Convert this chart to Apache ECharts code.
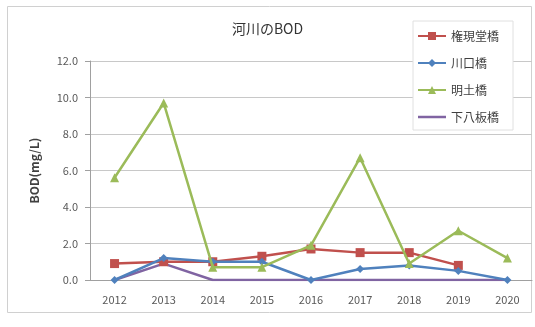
<!DOCTYPE html>
<html>
<head>
<meta charset="utf-8">
<script src="https://cdn.jsdelivr.net/npm/echarts@6/dist/echarts.min.js"></script>
<style>
html,body{margin:0;padding:0;background:#fff;}
#chart{width:535px;height:327px;}
</style>
</head>
<body>
<div id="chart"></div>
<script>
// 年度
const years = ['2012','2013','2014','2015','2016','2017','2018','2019','2020'];
// 各地点の BOD (mg/L)
const gongendo = [0.9, 1.0, 1.0, 1.3, 1.7, 1.5, 1.5, 0.8, null];
const kawaguchi = [0.0, 1.2, 1.0, 1.0, 0.0, 0.6, 0.8, 0.5, 0.0];
const meido = [5.6, 9.7, 0.7, 0.7, 1.9, 6.7, 0.9, 2.7, 1.2];
const shimoyaita = [0.0, 0.9, 0.0, 0.0, 0.0, 0.0, 0.0, 0.0, 0.0];
// 縦軸目盛
const yTicks = { min: 0, max: 12, interval: 2 };

const font = '"Noto Sans CJK JP", "Noto Sans", sans-serif';

const chart = echarts.init(document.getElementById('chart'));
chart.setOption({
  animation: false,
  backgroundColor: '#fff',
  textStyle: { fontFamily: font },
  graphic: [{
    type: 'rect',
    shape: { x: 7.5, y: 6.5, width: 524, height: 306 },
    style: { fill: 'none', stroke: '#D0D0D0', lineWidth: 1 },
    silent: true
  }],
  title: {
    text: '河川のBOD',
    left: 'center',
    top: 17,
    textStyle: { fontFamily: font, fontSize: 14, fontWeight: 'normal', color: '#333' }
  },
  legend: {
    orient: 'vertical',
    left: 413,
    top: 21,
    itemWidth: 28,
    itemHeight: 10,
    itemGap: 15,
    padding: [9, 14, 7, 4],
    borderColor: '#E0E0E0',
    borderWidth: 1,
    backgroundColor: '#fff',
    textStyle: { fontFamily: font, fontSize: 12, color: '#404040' },
    data: ['権現堂橋', '川口橋', '明土橋',
      { name: '下八板橋', icon: 'path://M0,0H28V2.5H0Z' }]
  },
  grid: { left: 90, right: 3, top: 61, bottom: 47, containLabel: false },
  xAxis: {
    type: 'category',
    data: years,
    boundaryGap: true,
    axisLine: { lineStyle: { color: '#A0A0A0' } },
    axisTick: { show: false },
    axisLabel: { color: '#595959', fontSize: 11, margin: 14, fontFamily: font }
  },
  yAxis: {
    type: 'value',
    min: yTicks.min,
    max: yTicks.max,
    interval: yTicks.interval,
    name: 'BOD(mg/L)',
    nameLocation: 'middle',
    nameGap: 50,
    nameRotate: 90,
    nameTextStyle: { fontFamily: font, fontSize: 12, fontWeight: 'bold', color: '#404040' },
    axisLine: { show: true, lineStyle: { color: '#A0A0A0' } },
    axisTick: { show: true, length: 5, lineStyle: { color: '#A0A0A0' } },
    axisLabel: { color: '#595959', fontSize: 11, margin: 12, fontFamily: font,
      formatter: v => v.toFixed(1) },
    splitLine: { lineStyle: { color: '#C8C8C8', width: 1 } }
  },
  series: [
    {
      name: '権現堂橋', type: 'line', data: gongendo,
      symbol: 'rect', symbolSize: 9,
      lineStyle: { color: '#C0504D', width: 2.5 },
      itemStyle: { color: '#C0504D' }, z: 3
    },
    {
      name: '川口橋', type: 'line', data: kawaguchi,
      symbol: 'diamond', symbolSize: 8,
      lineStyle: { color: '#4F81BD', width: 2.5 },
      itemStyle: { color: '#4F81BD' }, z: 4
    },
    {
      name: '明土橋', type: 'line', data: meido,
      symbol: 'triangle', symbolSize: 9,
      lineStyle: { color: '#9BBB59', width: 2.5 },
      itemStyle: { color: '#9BBB59' }, z: 5
    },
    {
      name: '下八板橋', type: 'line', data: shimoyaita,
      symbol: 'none',
      lineStyle: { color: '#8064A2', width: 2.5 },
      itemStyle: { color: '#8064A2' }, z: 2
    }
  ]
});
</script>
</body>
</html>
